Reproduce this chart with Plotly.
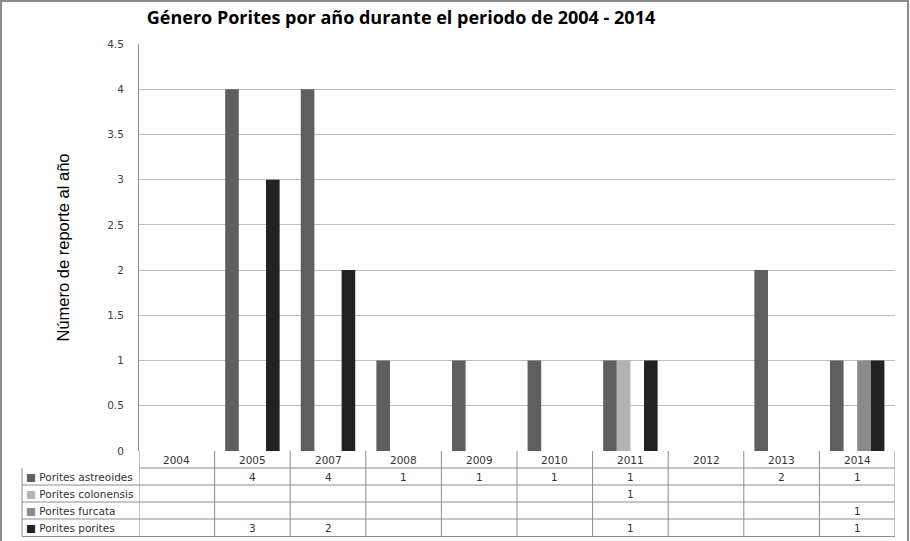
import plotly.graph_objects as go

years = ["2004", "2005", "2007", "2008", "2009", "2010", "2011", "2012", "2013", "2014"]
astreoides = [None, 4, 4, 1, 1, 1, 1, None, 2, 1]
colonensis = [None, None, None, None, None, None, 1, None, None, None]
furcata = [None, None, None, None, None, None, None, None, None, 1]
porites = [None, 3, 2, None, None, None, 1, None, None, 1]

series_names = ["Porites astreoides", "Porites colonensis", "Porites furcata", "Porites porites"]
series_values = [astreoides, colonensis, furcata, porites]
series_colors = ["#5f5f5f", "#b3b3b3", "#8a8a8a", "#222222"]

y_ticks = [0, 0.5, 1, 1.5, 2, 2.5, 3, 3.5, 4, 4.5]
y_tick_text = ["0", "0.5", "1", "1.5", "2", "2.5", "3", "3.5", "4", "4.5"]

W, H = 910, 541
ML, MR, MT, MB = 139, 15, 44, 90
PW, PH = W - ML - MR, H - MT - MB


def px(x):
    return (x - ML) / PW


def py(y):
    return (H - MB - y) / PH


fig = go.Figure()
for name, vals, col in zip(series_names, series_values, series_colors):
    fig.add_trace(go.Bar(x=years, y=vals, name=name, marker=dict(color=col, line=dict(width=0))))

line_col = "#8c8c8c"
row_tops = [451, 468, 485, 502, 519, 536.5]
shapes = []
shapes.append(dict(type="line", xref="paper", yref="paper", x0=0, x1=1, y0=py(468), y1=py(468),
                   line=dict(color=line_col, width=1)))
for r in row_tops[2:]:
    shapes.append(dict(type="line", xref="paper", yref="paper", x0=px(22), x1=1, y0=py(r), y1=py(r),
                       line=dict(color=line_col, width=1)))
for i in range(len(years) + 1):
    shapes.append(dict(type="line", xref="x", yref="paper", x0=i - 0.5, x1=i - 0.5,
                       y0=py(451), y1=py(536.5), line=dict(color=line_col, width=1)))
shapes.append(dict(type="line", xref="paper", yref="paper", x0=px(22), x1=px(22),
                   y0=py(468), y1=py(536.5), line=dict(color=line_col, width=1)))
shapes.append(dict(type="rect", xref="paper", yref="paper", x0=px(1), x1=px(908), y0=py(545), y1=py(1),
                   line=dict(color="#8c8c8c", width=2), layer="below"))

annotations = []
tfont = dict(family="DejaVu Sans", size=10.5, color="#333333")
for i, yr in enumerate(years):
    annotations.append(dict(x=i, xref="x", y=py(459.5), yref="paper", text=yr, showarrow=False,
                            font=tfont, xanchor="center", yanchor="middle"))
for k, (name, vals, col) in enumerate(zip(series_names, series_values, series_colors)):
    yc = py(476.5 + 17 * k)
    annotations.append(dict(x=px(24), xref="paper", y=yc, yref="paper",
                            text="<span style='color:%s'>■</span> %s" % (col, name),
                            showarrow=False, font=tfont, xanchor="left", yanchor="middle"))
    for i, v in enumerate(vals):
        if v is not None:
            annotations.append(dict(x=i, xref="x", y=yc, yref="paper", text=str(v), showarrow=False,
                                    font=tfont, xanchor="center", yanchor="middle"))
annotations.append(dict(x=px(62), xref="paper", y=0.5, yref="paper", text="Número de reporte al año",
                        textangle=-90, showarrow=False,
                        font=dict(family="Liberation Sans", size=16.5, color="#000000"),
                        xanchor="center", yanchor="middle"))

fig.update_layout(
    width=W, height=H, autosize=False,
    margin=dict(l=ML, r=MR, t=MT, b=MB),
    paper_bgcolor="white", plot_bgcolor="white",
    barmode="group", bargap=0.28, bargroupgap=0,
    showlegend=False,
    title=dict(text="<b>Género Porites por año durante el periodo de 2004 - 2014</b>",
               x=401 / W, xanchor="center", y=1 - 18 / H, yanchor="middle",
               font=dict(family="Open Sans", size=18, color="#000000")),
    xaxis=dict(type="category", categoryorder="array", categoryarray=years,
               range=[-0.5, len(years) - 0.5], autorange=False,
               showticklabels=False, showgrid=False, showline=False, ticks="", zeroline=False),
    yaxis=dict(range=[0, 4.5], tickvals=y_ticks, ticktext=y_tick_text, showgrid=True,
               gridcolor="#bdbdbd", gridwidth=1.3, showline=True, linecolor="#8c8c8c", linewidth=1,
               zeroline=False, ticks="", ticklabelstandoff=12,
               tickfont=dict(family="DejaVu Sans", size=10.5, color="#404040")),
    shapes=shapes, annotations=annotations,
)

fig.write_html("out.html", config={"displayModeBar": False},
               post_script="document.body.style.margin='0';")
